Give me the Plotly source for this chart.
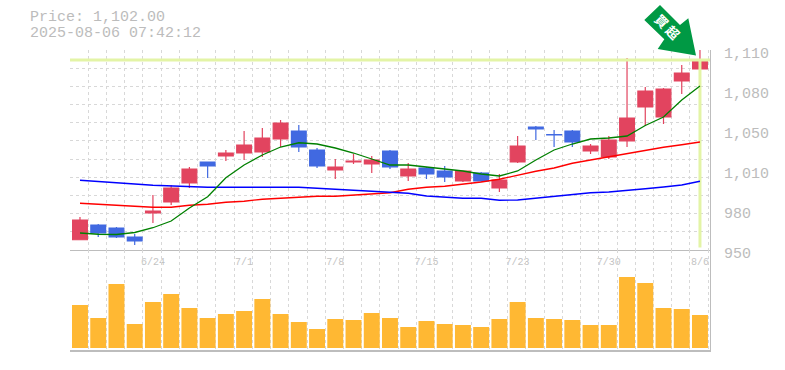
import plotly.graph_objects as go

index = list(range(35))
tick_pos = [4, 9, 14, 19, 24, 29, 34]
tick_dates = ["6/24", "7/1", "7/8", "7/15", "7/23", "7/30", "8/6"]
price_ticks = [950, 982, 1014, 1046, 1078, 1110]
price_labels = ["950", "980", "1,010", "1,050", "1,080", "1,110"]

opens = [958.2,970,967.6,960.4,979.6,988.4,1003.6,1020.4,1025.2,1027.6,1028.4,1038.8,1045.2,1030,1014,1020.4,1018.8,1029.2,1009.2,1015.6,1013.2,1005.2,1011.6,999.6,1020.4,1048.4,1042.4,1045.2,1029.2,1024.4,1037.2,1064.4,1056.4,1085.2,1094.8]
closes = [974,963.6,960.4,957.2,981.2,999.6,1014.8,1017.2,1027.6,1034,1039.6,1051.6,1032.4,1017.2,1016.4,1021.2,1022,1016.4,1014.8,1010.8,1008.4,1013.2,1005.2,1006,1033.2,1046.8,1042,1036.4,1033.2,1038,1055.6,1077.2,1078.8,1091.6,1102]
highs = [976.4,970.8,968.4,962.8,994,1002,1016.4,1020.4,1030,1045.2,1047.6,1054,1050,1031.6,1022.8,1026.8,1025.2,1030,1019.6,1016.4,1017.2,1013.2,1012.4,1010.8,1041.2,1049.2,1046,1046,1034.8,1041.2,1103.6,1080.4,1079.6,1098,1110]
lows = [958,960.4,959.6,954,971.6,986,999.6,1007.6,1021.2,1022,1024.4,1032.4,1028.4,1015.6,1006.8,1018.8,1011.6,1014.8,1005.2,1006.8,1004.4,1004.4,1004.4,996.4,1019.6,1038,1032.4,1032.4,1026.8,1022.8,1032.4,1049.2,1050.8,1074.8,1089.2]
ma_short = [963.6,962.6,962.4,964,967.8,973.2,983.6,992.6,1007.8,1018,1026,1032.4,1035.8,1034.8,1031.6,1027.6,1022.8,1018,1018,1016.4,1014.8,1013.2,1010.8,1009.2,1013.2,1022,1030,1034.8,1038.8,1039.6,1041.2,1049.6,1056.4,1070,1081.2]
ma_mid = [987.4,986.6,985.8,984.4,984.2,984.2,985.8,986.6,988.2,989,990.6,991.4,992.2,993,993,994,994.6,995.8,998.6,1000.2,1001,1002.6,1004.4,1006.6,1010,1013,1015.6,1019.4,1022,1024.6,1027.6,1030.2,1032.2,1034.2,1036.4]
ma_long = [1005.8,1005,1004.2,1002.8,1001.8,1001.2,1001,1000.2,1000.2,1000.2,1000.2,1000.2,1000.2,999.4,998.6,997.8,997,996.2,995.4,993.2,992.4,991.4,991.4,989.8,990,991.4,992.6,993.8,995.8,996.4,997.4,999,1000.4,1002,1005]
volumes = [43,30,64,24,46,54,40,30,34,37,49,34,26,19,29,28,35,30,21,27,24,23,21,29,46,30,29,28,23,23,71,65,40,39,33]

GRID = "#d8d8d8"
AXIS = "#bdbdbd"
TXT = "#bcbcbc"
HILITE = "#e3f4a6"
last_close = closes[-1]
X_RANGE = [-0.548, 34.55]

fig = go.Figure()
fig.add_trace(go.Scatter(x=X_RANGE, y=[last_close, last_close], mode="lines", line=dict(color=HILITE, width=3)))
fig.add_trace(go.Scatter(x=[34, 34], y=[last_close, 952], mode="lines", line=dict(color=HILITE, width=3)))
fig.add_trace(go.Scatter(x=index, y=ma_mid, mode="lines", line=dict(color="#ff0000", width=1.3)))
fig.add_trace(go.Scatter(x=index, y=ma_long, mode="lines", line=dict(color="#0000ff", width=1.3)))
fig.add_trace(go.Scatter(x=index, y=ma_short, mode="lines", line=dict(color="#008000", width=1.3)))
fig.add_trace(go.Candlestick(
    x=index, open=opens, high=highs, low=lows, close=closes, whiskerwidth=0,
    increasing=dict(line=dict(color="#e2445f", width=1.2), fillcolor="#e2445f"),
    decreasing=dict(line=dict(color="#4169e1", width=1.2), fillcolor="#4169e1"),
))
fig.add_trace(go.Bar(x=index, y=volumes, marker=dict(color="#ffb833", line=dict(width=0)), width=0.875, xaxis="x2", yaxis="y2"))

grid_x = [i - 0.548 for i in range(36)]
grid_y = [950 + 160 * i / 11 for i in range(12)]

fig.update_layout(
    width=785, height=370, autosize=False, showlegend=False,
    margin=dict(l=70, r=75, t=50, b=20, pad=0),
    paper_bgcolor="white", plot_bgcolor="white", boxgap=0.19, boxgroupgap=0,
    font=dict(family="Liberation Mono", color=TXT),
    xaxis=dict(
        domain=[0, 1], range=X_RANGE, anchor="y", rangeslider=dict(visible=False), automargin=False,
        tickmode="array", tickvals=tick_pos, ticktext=tick_dates,
        tickfont=dict(size=10, color="#c4c4c4", family="Liberation Mono"),
        ticklen=0, showgrid=False, zeroline=False, showline=True, linecolor=AXIS, linewidth=1,
        ticklabelstandoff=2,
        minor=dict(tickmode="array", tickvals=grid_x, showgrid=True, gridcolor=GRID, griddash="3px,3px", gridwidth=1, ticklen=0),
    ),
    yaxis=dict(
        domain=[1/3, 1], range=[950, 1110], side="right", anchor="x", automargin=False,
        tickmode="array", tickvals=price_ticks, ticktext=price_labels,
        tickfont=dict(size=15, color=TXT, family="Liberation Mono"),
        ticklen=0, ticklabelstandoff=10, showgrid=False, zeroline=False,
        showline=True, linecolor=AXIS, linewidth=1, mirror=False, ticklabelshift=3,
        minor=dict(tickmode="array", tickvals=grid_y, showgrid=True, gridcolor=GRID, griddash="3px,3px", gridwidth=1, ticklen=0),
    ),
    xaxis2=dict(
        domain=[0, 1], range=X_RANGE, anchor="y2", showticklabels=False, ticklen=0, automargin=False,
        showgrid=False, zeroline=False, showline=True, linecolor=AXIS, linewidth=2,
        tickmode="array", tickvals=tick_pos,
        minor=dict(tickmode="array", tickvals=grid_x, showgrid=True, gridcolor=GRID, griddash="3px,3px", gridwidth=1, ticklen=0),
    ),
    yaxis2=dict(
        domain=[0, 1/3], range=[-2, 98], side="right", anchor="x2", showticklabels=False, automargin=False,
        ticklen=0, showgrid=False, zeroline=False, showline=True, linecolor=AXIS, linewidth=1,
    ),
)

def px(x):
    return (x - 70) / 640

def py(y):
    return (350 - y) / 300

arrow = [(660, 5), (644.3, 20), (664.3, 39.3), (657.7, 49), (696, 55.5), (688.3, 18.3), (680, 25)]
path = "M " + " L ".join(f"{px(a):.5f},{py(b):.5f}" for a, b in arrow) + " Z"
fig.add_shape(type="path", path=path, xref="paper", yref="paper", fillcolor="#009944", line=dict(width=0), layer="above")
fig.add_shape(type="rect", xref="paper", yref="paper", x0=px(651), x1=px(681), y0=py(43), y1=py(13),
              fillcolor="rgba(0,0,0,0)", line=dict(width=0), layer="above",
              label=dict(text="<b>買\u2009超</b>", textangle=45, textposition="middle center",
                         font=dict(family="Noto Sans CJK JP", size=13, color="white")))
fig.add_annotation(x=px(28), y=py(18), xref="paper", yref="paper", xanchor="left", yanchor="middle", align="left",
                   text="Price: 1,102.00", showarrow=False, font=dict(family="Liberation Mono", size=15, color=TXT))
fig.add_annotation(x=px(28), y=py(33), xref="paper", yref="paper", xanchor="left", yanchor="middle", align="left",
                   text="2025-08-06 07:42:12", showarrow=False, font=dict(family="Liberation Mono", size=15, color=TXT))

fig.write_html("out.html", config={"displayModeBar": False},
               post_script="document.body.style.margin='0';")
